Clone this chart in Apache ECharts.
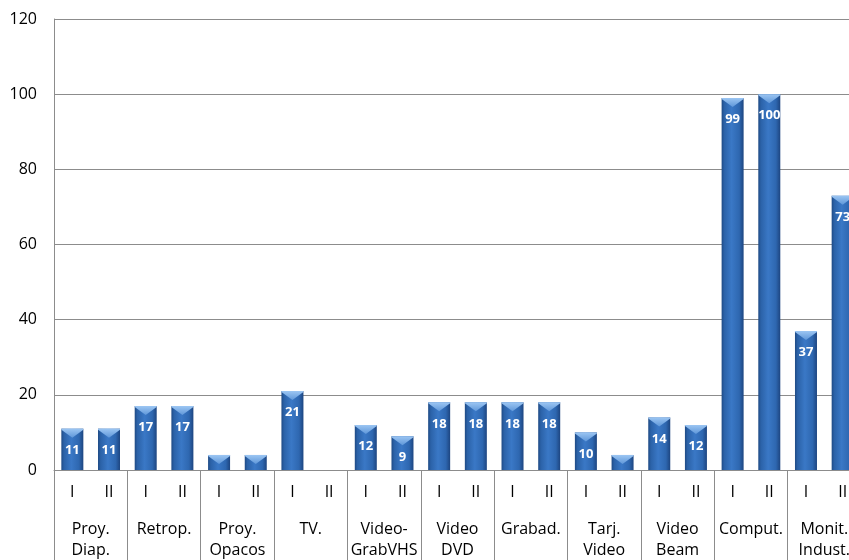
<!DOCTYPE html>
<html>
<head>
<meta charset="utf-8">
<script src="https://cdn.jsdelivr.net/npm/echarts@6/dist/echarts.min.js"></script>
<style>html,body{margin:0;padding:0;background:#fff}#c{width:849px;height:560px}</style>
</head>
<body>
<div id="c"></div>
<script>
const groups = ['Proy.\nDiap.', 'Retrop.', 'Proy.\nOpacos', 'TV.', 'Video-\nGrabVHS', 'Video\nDVD', 'Grabad.', 'Tarj.\nVideo', 'Video\nBeam', 'Comput.', 'Monit.\nIndust.'];
const periods = ['I', 'II'];
const valuesI  = [11, 17, 4, 21, 12, 18, 18, 10, 14, 99, 37];
const valuesII = [11, 17, 4, 0, 9, 18, 18, 4, 12, 100, 73];
const yTicks = { min: 0, max: 120, interval: 20 };

const cats = [];
const vals = [];
groups.forEach((g, i) => {
  cats.push(periods[0]); vals.push(valuesI[i]);
  cats.push(periods[1]); vals.push(valuesII[i]);
});

const FONT = '"Open Sans", Lato, sans-serif';
const chart = echarts.init(document.getElementById('c'), null, { renderer: 'canvas' });
chart.setOption({
  animation: false,
  grid: { left: 54, top: 19, width: 807, height: 451, containLabel: false, outerBoundsMode: 'none' },
  xAxis: [
    {
      type: 'category', data: cats, position: 'bottom',
      axisLine: { show: true, lineStyle: { color: '#8c8c8c', width: 1 } },
      axisTick: { show: false },
      axisLabel: { interval: 0, color: '#000', fontSize: 16, fontFamily: FONT, margin: 14 }
    },
    {
      type: 'category', data: groups, position: 'bottom', offset: 0,
      axisLine: { show: false },
      axisTick: { show: true, interval: 0, length: 100, lineStyle: { color: '#8c8c8c', width: 1 } },
      axisLabel: { interval: 0, color: '#000', fontSize: 16, fontFamily: FONT, margin: 49, lineHeight: 21 },
      splitLine: { show: false }
    }
  ],
  yAxis: {
    type: 'value', min: yTicks.min, max: yTicks.max, interval: yTicks.interval,
    axisLine: { show: true, lineStyle: { color: '#8c8c8c', width: 1 } },
    axisTick: { show: false },
    axisLabel: { color: '#000', fontSize: 16, fontFamily: FONT, margin: 17 },
    splitLine: { lineStyle: { color: '#8c8c8c', width: 1 } }
  },
  series: [
    {
      type: 'bar', xAxisIndex: 0, data: vals, barWidth: 22,
      itemStyle: {
        color: new echarts.graphic.LinearGradient(0, 0, 1, 0, [
          { offset: 0, color: '#1f4a84' },
          { offset: 0.12, color: '#2b62a8' },
          { offset: 0.45, color: '#3a78c6' },
          { offset: 0.8, color: '#2e67b0' },
          { offset: 1, color: '#1d4580' }
        ])
      },
      label: {
        show: true, position: 'insideTop', distance: 15,
        color: '#fff', fontWeight: 'bold', fontSize: 13, fontFamily: FONT,
        formatter: p => (p.value ? String(p.value) : '')
      },
      z: 2
    },
    {
      type: 'pictorialBar', xAxisIndex: 0, data: vals.map(v => (v > 0 ? v : null)),
      symbol: 'path://M0,0 L22,0 L22,1 L11,9 L0,1 Z', symbolSize: [22, 9], symbolKeepAspect: false,
      symbolPosition: 'end', symbolOffset: [0, 0],
      itemStyle: {
        color: new echarts.graphic.LinearGradient(0, 0, 0, 1, [
          { offset: 0, color: '#9cc6f3' },
          { offset: 1, color: '#5f97d9' }
        ])
      },
      silent: true, z: 3
    }
  ]
});
</script>
</body>
</html>
